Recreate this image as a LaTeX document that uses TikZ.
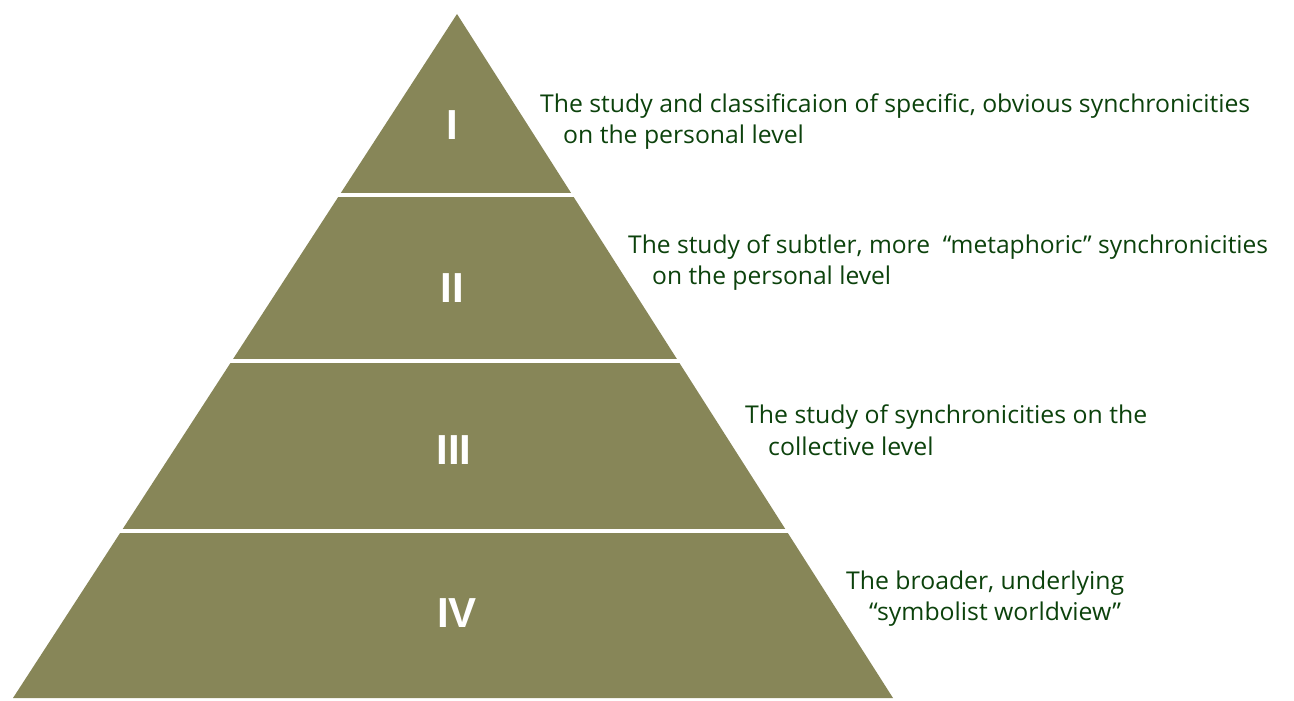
\documentclass[tikz,border=0pt]{standalone}
\usepackage{fontspec}
\setmainfont{Open Sans}
\newfontfamily\numfont{Liberation Sans}
\definecolor{pyrfill}{RGB}{135,134,88}
\definecolor{txtgreen}{RGB}{12,66,12}
\newsavebox\fitbox
\newcommand\fitfirst[2]{\sbox\fitbox{#2}\pgfmathsetmacro\fittmp{#1/\wd\fitbox}\xdef\blockscale{\fittmp}\scalebox{\blockscale}[1]{\usebox\fitbox}}
\newcommand\fitnext[1]{\scalebox{\blockscale}[1]{#1}}
\tikzset{
  lbl/.style={anchor=base west, inner sep=0pt, text=txtgreen, font=\fontsize{24.5}{29}\selectfont},
  num/.style={text=white, inner sep=0pt, font=\numfont\bfseries\fontsize{42}{42}\selectfont},
  gap/.style={white, line width=4pt}
}
\begin{document}
\begin{tikzpicture}[x=1pt,y=-1pt]
\useasboundingbox (0,0) rectangle (1294,701);
\coordinate (apex) at (457,14);
\coordinate (bl) at (13,698);
\coordinate (br) at (893,698);
\fill[pyrfill] (apex) -- (br) -- (bl) -- cycle;
\draw[gap] (0,195) -- (1000,195);
\draw[gap] (0,361) -- (1000,361);
\draw[gap] (0,531) -- (1000,531);
\node[num] (n1) at (452,125) {I};
\node[num] (n2) at (452,288) {II};
\node[num] (n3) at (454,450) {III};
\node[num] (n4) at (457,613) {IV};
\node[lbl] (t1a) at (540,112) {\fitfirst{710}{The study and classificaion of specific, obvious synchronicities}};
\node[lbl] (t1b) at (563,143) {\fitnext{on the personal level}};
\node[lbl] (t2a) at (628,253) {\fitfirst{640}{The study of subtler, more\ \ “metaphoric” synchronicities}};
\node[lbl] (t2b) at (652,284) {\fitnext{on the personal level}};
\node[lbl] (t3a) at (745,423) {\fitfirst{402}{The study of synchronicities on the}};
\node[lbl] (t3b) at (768,455) {\fitnext{collective level}};
\node[lbl] (t4a) at (846,589) {\fitfirst{278}{The broader, underlying}};
\node[lbl] (t4b) at (869,620) {\fitnext{“symbolist worldview”}};
\end{tikzpicture}
\end{document}
